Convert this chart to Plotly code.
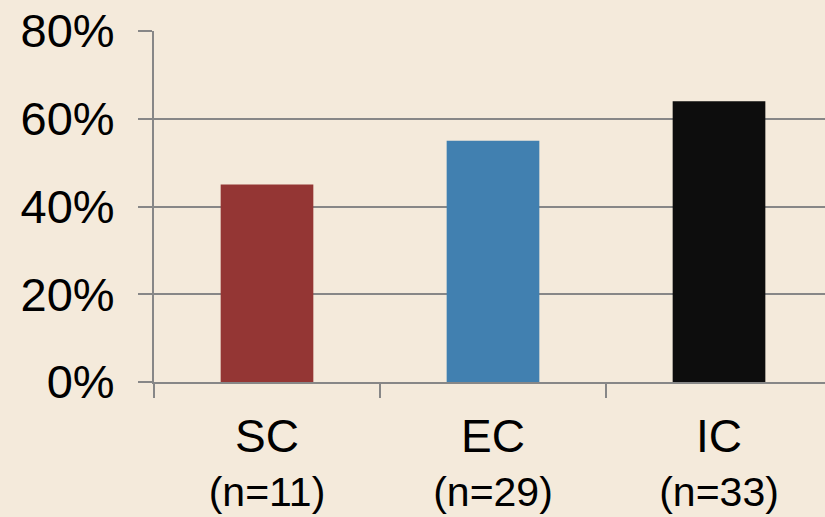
import plotly.graph_objects as go

# Share of patients per group
groups = ["SC", "EC", "IC"]
counts = ["(n=11)", "(n=29)", "(n=33)"]
shares = [0.45, 0.55, 0.64]
bar_colors = ["#943634", "#4180B0", "#0D0D0D"]

y_ticks = [0, 0.2, 0.4, 0.6, 0.8]
y_labels = ["0%", "20%", "40%", "60%", "80%"]

bg = "#F4EADB"
grid = "#878787"
font_family = "Liberation Sans, Arial, Helvetica, sans-serif"

# group name on top, sample size underneath
tick_text = [
    f"<span style='font-size:46px'>{g}</span><br>{c}" for g, c in zip(groups, counts)
]

fig = go.Figure(
    go.Bar(
        x=groups,
        y=shares,
        marker=dict(color=bar_colors, line=dict(width=0)),
        width=0.41,
    )
)

fig.update_layout(
    width=825,
    height=517,
    margin=dict(l=154, r=0, t=31, b=135),
    paper_bgcolor=bg,
    plot_bgcolor=bg,
    showlegend=False,
    font=dict(family=font_family, color="#000000"),
)

fig.update_xaxes(
    type="category",
    range=[-0.5, 2.469],
    tickmode="array",
    tickvals=groups,
    ticktext=tick_text,
    tickfont=dict(size=41, family=font_family, color="#000000"),
    showline=True,
    linecolor=grid,
    linewidth=2,
    ticks="outside",
    tickson="boundaries",
    ticklen=14,
    tickwidth=2,
    tickcolor=grid,
    showgrid=False,
    zeroline=False,
    ticklabelstandoff=19,
)

fig.update_yaxes(
    range=[0, 0.8],
    tickmode="array",
    tickvals=y_ticks,
    ticktext=y_labels,
    tickfont=dict(size=47, family=font_family, color="#000000"),
    showline=True,
    linecolor=grid,
    linewidth=2,
    ticks="outside",
    ticklen=14,
    tickwidth=2,
    tickcolor=grid,
    showgrid=True,
    gridcolor=grid,
    gridwidth=2,
    zeroline=False,
    ticklabelstandoff=14,
)

fig.write_html("out.html")
